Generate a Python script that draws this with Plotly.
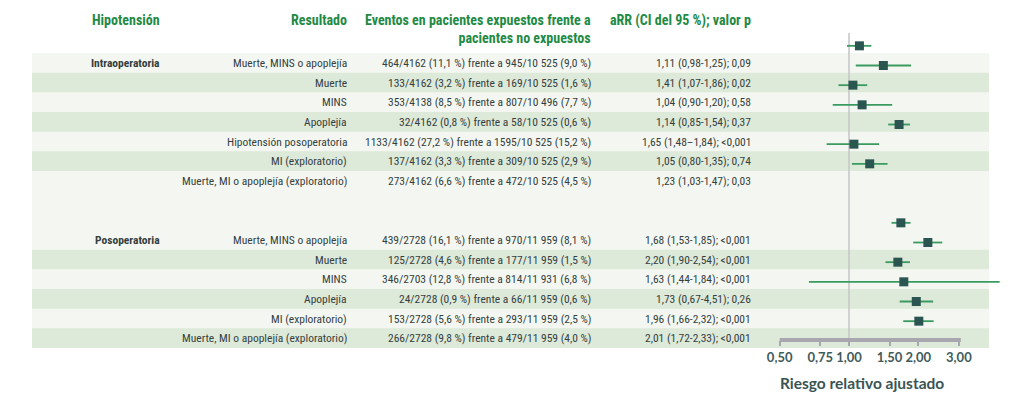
import plotly.graph_objects as go
import math

# ---------------- data ----------------
groups = ["Intraoperatoria", "Posoperatoria"]

intra_outcomes = ["Muerte, MINS o apoplejía", "Muerte", "MINS", "Apoplejía",
                  "Hipotensión posoperatoria", "MI (exploratorio)",
                  "Muerte, MI o apoplejía (exploratorio)"]
intra_events = ["464/4162 (11,1 %) frente a 945/10 525 (9,0 %)",
                "133/4162 (3,2 %) frente a 169/10 525 (1,6 %)",
                "353/4138 (8,5 %) frente a 807/10 496 (7,7 %)",
                "32/4162 (0,8 %) frente a 58/10 525 (0,6 %)",
                "1133/4162 (27,2 %) frente a 1595/10 525 (15,2 %)",
                "137/4162 (3,3 %) frente a 309/10 525 (2,9 %)",
                "273/4162 (6,6 %) frente a 472/10 525 (4,5 %)"]
intra_arr_text = ["1,11 (0,98-1,25); 0,09", "1,41 (1,07-1,86); 0,02",
                  "1,04 (0,90-1,20); 0,58", "1,14 (0,85-1,54); 0,37",
                  "1,65 (1,48–1,84); <0,001", "1,05 (0,80-1,35); 0,74",
                  "1,23 (1,03-1,47); 0,03"]
intra_rr = [1.11, 1.41, 1.04, 1.14, 1.65, 1.05, 1.23]
intra_lo = [0.98, 1.07, 0.90, 0.85, 1.48, 0.80, 1.03]
intra_hi = [1.25, 1.86, 1.20, 1.54, 1.84, 1.35, 1.47]

post_outcomes = ["Muerte, MINS o apoplejía", "Muerte", "MINS", "Apoplejía",
                 "MI (exploratorio)", "Muerte, MI o apoplejía (exploratorio)"]
post_events = ["439/2728 (16,1 %) frente a 970/11 959 (8,1 %)",
               "125/2728 (4,6 %) frente a 177/11 959 (1,5 %)",
               "346/2703 (12,8 %) frente a 814/11 931 (6,8 %)",
               "24/2728 (0,9 %) frente a 66/11 959 (0,6 %)",
               "153/2728 (5,6 %) frente a 293/11 959 (2,5 %)",
               "266/2728 (9,8 %) frente a 479/11 959 (4,0 %)"]
post_arr_text = ["1,68 (1,53-1,85); <0,001", "2,20 (1,90-2,54); <0,001",
                 "1,63 (1,44-1,84); <0,001", "1,73 (0,67-4,51); 0,26",
                 "1,96 (1,66-2,32); <0,001", "2,01 (1,72-2,33); <0,001"]
post_rr = [1.68, 2.20, 1.63, 1.73, 1.96, 2.01]
post_lo = [1.53, 1.90, 1.44, 0.67, 1.66, 1.72]
post_hi = [1.85, 2.54, 1.84, 4.51, 2.32, 2.33]

tick_vals = [0.50, 0.75, 1.00, 1.50, 2.00, 3.00]
tick_text = ["0,50", "0,75", "1,00", "1,50", "2,00", "3,00"]

headers = ["Hipotensión", "Resultado",
           "Eventos en pacientes expuestos frente a<br>pacientes no expuestos",
           "aRR (CI del 95 %); valor p"]
x_title = "Riesgo relativo ajustado"

# ---------------- layout helpers ----------------
W, H = 1024, 400
GAP_ROWS = 2
n_intra, n_post = len(intra_outcomes), len(post_outcomes)
intra_rows = list(range(n_intra))
post_rows = [n_intra + GAP_ROWS + i for i in range(n_post)]
n_rows = n_intra + GAP_ROWS + n_post

def px(xp):
    return xp / W

def py(yp):
    return 1 - yp / H

FONT = "Liberation Sans Narrow, Roboto Condensed, Arial Narrow, DejaVu Sans Condensed, sans-serif"
AXFONT = "Lato, Open Sans, sans-serif"
TXT = "#353f3f"
GREEN_H = "#1f8a45"
LIGHT = "#f4f7f1"
DARK = "#dde9d9"

fig = go.Figure()

rows_all = intra_rows + post_rows
rr_all = intra_rr + post_rr
lo_all = intra_lo + post_lo
hi_all = intra_hi + post_hi
fig.add_trace(go.Scatter(
    x=rr_all, y=rows_all, mode="markers", xaxis="x", yaxis="y2",
    marker=dict(symbol="square", size=9, color="#2b5550",
                line=dict(width=0)),
    error_x=dict(type="data", symmetric=False,
                 array=[h - r for h, r in zip(hi_all, rr_all)],
                 arrayminus=[r - l for r, l in zip(rr_all, lo_all)],
                 color="#3a9a60", thickness=1.8, width=0),
    hoverinfo="skip", showlegend=False))

shapes = []
shapes.append(dict(type="rect", xref="paper", yref="y", x0=px(32), x1=px(989),
                   y0=-0.5, y1=n_rows - 0.5, fillcolor=LIGHT, line_width=0,
                   layer="below"))
for rows in (intra_rows, post_rows):
    for k, r in enumerate(rows):
        if k % 2 == 1:
            shapes.append(dict(type="rect", xref="paper", yref="y",
                               x0=px(32), x1=px(989), y0=r - 0.5, y1=r + 0.5,
                               fillcolor=DARK, line_width=0, layer="below"))
shapes.append(dict(type="line", xref="x", yref="paper", x0=1, x1=1,
                   y0=py(340), y1=py(33), line=dict(color="#c4c4c6", width=1.5),
                   layer="below"))
shapes.append(dict(type="line", xref="x", yref="paper", x0=tick_vals[0],
                   x1=tick_vals[-1] * 1.02, y0=py(340), y1=py(340),
                   line=dict(color="#a8a7b0", width=4)))

annotations = []
hdr_x = [162, 349, 593, 753]
for h, xr in zip(headers, hdr_x):
    annotations.append(dict(text="<b>" + h + "</b>", xref="paper", yref="paper",
                            x=px(xr), y=py(10), xanchor="right", yanchor="top",
                            align="right", showarrow=False,
                            font=dict(family=FONT, size=14, color=GREEN_H)))
for g, rows in zip(groups, (intra_rows, post_rows)):
    annotations.append(dict(text="<b>" + g + "</b>", xref="paper", yref="y",
                            x=px(162), y=rows[0], xanchor="right", yanchor="middle",
                            showarrow=False,
                            font=dict(family=FONT, size=11.5, color=TXT)))
for outs, evs, arrs, rows in ((intra_outcomes, intra_events, intra_arr_text, intra_rows),
                              (post_outcomes, post_events, post_arr_text, post_rows)):
    for o, e, a, r in zip(outs, evs, arrs, rows):
        for t, xr in ((o, 349), (e, 593), (a, 753)):
            annotations.append(dict(text=t, xref="paper", yref="y", x=px(xr), y=r,
                                    xanchor="right", yanchor="middle",
                                    showarrow=False,
                                    font=dict(family=FONT, size=11.5, color=TXT)))
annotations.append(dict(text="<b>" + x_title + "</b>", xref="paper", yref="paper",
                        x=px(862), y=py(383), xanchor="center", yanchor="middle",
                        showarrow=False,
                        font=dict(family=AXFONT, size=15.5, color="#3a5454")))

ln_per_px = 0.01
left_log = (760 - 849) * ln_per_px / math.log(10)
right_log = (1024 - 849) * ln_per_px / math.log(10)

fig.update_layout(
    width=W, height=H, margin=dict(l=0, r=0, t=0, b=0),
    paper_bgcolor="white", plot_bgcolor="rgba(0,0,0,0)",
    xaxis=dict(type="log", domain=[px(760), 1], range=[left_log, right_log],
               anchor="free", position=py(340), showgrid=False, zeroline=False,
               showline=False, tickvals=tick_vals, ticktext=tick_text,
               tickangle=0, ticks="outside", ticklen=5, tickwidth=2,
               tickcolor="#a8a7b0",
               tickfont=dict(family=AXFONT, size=13, weight="bold",
                             color="#3f5b5b")),
    yaxis=dict(domain=[py(348), py(53)], range=[n_rows - 0.5, -0.5],
               visible=False, showgrid=False, zeroline=False),
    yaxis2=dict(domain=[py(331), py(36)], range=[n_rows - 0.5, -0.5],
                visible=False, showgrid=False, zeroline=False, anchor="x"),
    shapes=shapes, annotations=annotations, showlegend=False,
)

fig.write_html("out.html")
